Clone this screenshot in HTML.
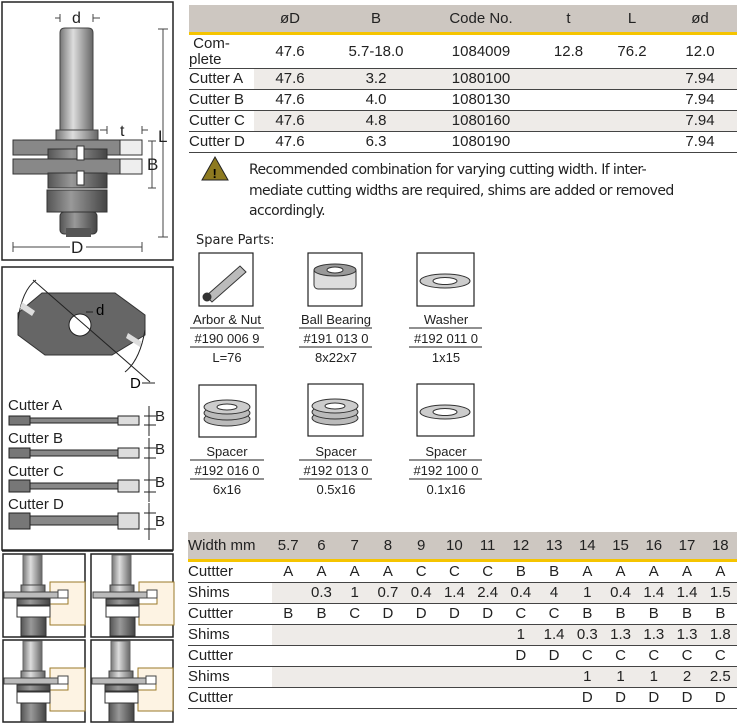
<!DOCTYPE html>
<html><head><meta charset="utf-8"><style>
body{margin:0;width:737px;height:728px;background:#fff;position:relative;overflow:hidden;font-family:"Liberation Sans",sans-serif;color:#222}
.t{position:absolute;white-space:nowrap}
table{position:absolute;border-collapse:collapse;font-size:15px}
td{padding:0;text-align:center;height:20px;border-bottom:1px solid #444;line-height:20px}
.hd td{background:#cdc7c1;border-bottom:3px solid #f5c400;height:27px}
.sh td.s{background:#eeebe8}
td.l{text-align:left}
.fx{table-layout:fixed}
.lab{position:absolute;font-size:13px;text-align:center;font-family:"Liberation Sans",sans-serif;white-space:nowrap}
</style></head><body>
<svg width="737" height="728" style="position:absolute;left:0;top:0" xmlns="http://www.w3.org/2000/svg">
<defs>
<linearGradient id="g" x1="0" x2="1"><stop offset="0" stop-color="#777"/><stop offset="0.4" stop-color="#ddd"/><stop offset="1" stop-color="#666"/></linearGradient>
<linearGradient id="gd" x1="0" x2="1"><stop offset="0" stop-color="#555"/><stop offset="0.4" stop-color="#999"/><stop offset="1" stop-color="#444"/></linearGradient>
</defs>
<g fill="none" stroke="#222" stroke-width="1.5">
<rect x="2" y="2" width="171" height="258"/>
<rect x="2" y="267" width="171" height="283"/>
</g>
<path d="M60 135 V33 Q60 28 65 28 H88 Q93 28 93 33 V135 Z" fill="url(#g)" stroke="#444"/>
<rect x="56" y="130" width="42" height="12" fill="url(#g)" stroke="#444"/>
<rect x="13" y="140" width="107" height="15" fill="#888" stroke="#333"/>
<rect x="120" y="140" width="22" height="15" fill="#eee" stroke="#333"/>
<rect x="48" y="149" width="59" height="14" fill="url(#gd)" stroke="#333"/>
<rect x="13" y="159" width="107" height="15" fill="#888" stroke="#333"/>
<rect x="120" y="159" width="22" height="15" fill="#eee" stroke="#333"/>
<rect x="48" y="173" width="59" height="15" fill="url(#gd)" stroke="#333"/>
<rect x="47" y="190" width="60" height="22" fill="url(#gd)" stroke="#333"/>
<rect x="60" y="212" width="37" height="22" rx="4" fill="url(#gd)" stroke="#333"/>
<rect x="66" y="228" width="25" height="9" fill="#555"/>
<rect x="77" y="146" width="7" height="14" fill="#fff" stroke="#333"/>
<rect x="77" y="171" width="7" height="14" fill="#fff" stroke="#333"/>
<g stroke="#444" stroke-width="1">
<line x1="163" y1="29" x2="163" y2="237"/><line x1="158" y1="29" x2="168" y2="29"/><line x1="158" y1="237" x2="168" y2="237"/>
<line x1="152" y1="141" x2="152" y2="188"/><line x1="148" y1="141" x2="156" y2="141"/><line x1="148" y1="188" x2="156" y2="188"/>
<line x1="13" y1="247" x2="70" y2="247"/><line x1="86" y1="247" x2="142" y2="247"/><line x1="13" y1="242" x2="13" y2="252"/><line x1="142" y1="242" x2="142" y2="252"/>
<line x1="55" y1="18" x2="60" y2="18"/><line x1="60" y1="14" x2="60" y2="22"/><line x1="93" y1="18" x2="100" y2="18"/><line x1="93" y1="14" x2="93" y2="22"/>
<line x1="100" y1="130" x2="107" y2="130"/><line x1="107" y1="126" x2="107" y2="134"/><line x1="142" y1="130" x2="148" y2="130"/><line x1="142" y1="126" x2="142" y2="134"/>
</g>
<g font-family="Liberation Sans" font-size="16" fill="#222">
<text x="72" y="23">d</text><text x="158" y="142" font-size="17">L</text><text x="120" y="136">t</text><text x="147" y="170" font-size="17">B</text><text x="71" y="253" font-size="17">D</text>
</g>
<polygon points="42,293 115,293 145,315 145,335 112,355 45,355 18,335 18,313" fill="#666" stroke="#333"/>
<circle cx="80" cy="325" r="11" fill="#fff" stroke="#222"/>
<line x1="33" y1="280" x2="150" y2="382" stroke="#222"/>
<path d="M18 320 Q22 290 36 280" fill="none" stroke="#222"/><path d="M145 330 Q140 360 125 372" fill="none" stroke="#222"/>
<polygon points="22,302 35,311 32,316 20,308" fill="#ddd"/><polygon points="128,333 142,342 140,347 126,338" fill="#ddd"/>
<path d="M86 312 H93" stroke="#222"/>
<text x="96" y="315" font-size="15" font-family="Liberation Sans">d</text>
<text x="130" y="388" font-size="15" font-family="Liberation Sans">D</text><line x1="142" y1="383" x2="155" y2="383" stroke="#222"/>
<g font-family="Liberation Sans" font-size="15" fill="#222">
<text x="8" y="410">Cutter A</text><text x="8" y="443">Cutter B</text><text x="8" y="476">Cutter C</text><text x="8" y="509">Cutter D</text>
<text x="155" y="421">B</text><text x="155" y="454">B</text><text x="155" y="487">B</text><text x="155" y="526">B</text>
</g>
<g stroke="#222">
<rect x="9" y="416" width="21" height="9" fill="#777"/><rect x="30" y="418" width="88" height="5" fill="#888"/><rect x="118" y="416" width="21" height="9" fill="#ddd"/>
<rect x="9" y="448" width="21" height="10" fill="#777"/><rect x="30" y="450" width="88" height="6" fill="#888"/><rect x="118" y="448" width="21" height="10" fill="#ddd"/>
<rect x="9" y="480" width="21" height="12" fill="#777"/><rect x="30" y="483" width="88" height="6" fill="#888"/><rect x="118" y="480" width="21" height="12" fill="#ddd"/>
<rect x="9" y="513" width="21" height="16" fill="#777"/><rect x="30" y="516" width="88" height="9" fill="#888"/><rect x="118" y="513" width="21" height="16" fill="#ddd"/>
<g stroke-width="1"><line x1="144" y1="416" x2="156" y2="416"/><line x1="144" y1="425" x2="156" y2="425"/><line x1="149" y1="406" x2="149" y2="436"/>
<line x1="144" y1="448" x2="156" y2="448"/><line x1="144" y1="458" x2="156" y2="458"/><line x1="149" y1="438" x2="149" y2="470"/>
<line x1="144" y1="480" x2="156" y2="480"/><line x1="144" y1="492" x2="156" y2="492"/><line x1="149" y1="470" x2="149" y2="502"/>
<line x1="144" y1="513" x2="156" y2="513"/><line x1="144" y1="529" x2="156" y2="529"/><line x1="149" y1="503" x2="149" y2="540"/></g>
</g>
<line x1="2" y1="551" x2="173" y2="551" stroke="#222" stroke-width="1.5"/>
<g fill="none" stroke="#222" stroke-width="1.5">
<rect x="3" y="554" width="82" height="83"/><rect x="91" y="554" width="82" height="83"/>
<rect x="3" y="640" width="82" height="82"/><rect x="91" y="640" width="82" height="82"/>
</g>
<g id="p1">
<path d="M50 582 H85 V625 H50 V604 H68 V592 H50 Z" fill="#fdf3e3" stroke="#9a7a2a"/>
<rect x="23" y="555" width="19" height="30" fill="url(#g)" stroke="#666"/>
<rect x="21" y="585" width="24" height="8" fill="url(#g)" stroke="#444"/>
<rect x="4" y="592" width="62" height="6" fill="#bbb" stroke="#444"/><rect x="58" y="590" width="10" height="8" fill="#fff" stroke="#444"/>
<rect x="17" y="599" width="33" height="6" fill="url(#gd)" stroke="#333"/>
<rect x="17" y="606" width="33" height="11" fill="#fff" stroke="#333"/>
<rect x="21" y="617" width="25" height="19" fill="url(#gd)" stroke="#333"/>
</g>
<use href="#p1" x="89" y="0"/>
<use href="#p1" x="0" y="86"/>
<use href="#p1" x="88" y="86"/>
<polygon points="215,157 228,180 202,180" fill="#8d7a20" stroke="#222"/>
<text x="212.5" y="178" font-size="13" font-weight="bold" font-family="Liberation Sans">!</text>
<g fill="#fff" stroke="#222" stroke-width="1.2">
<rect x="199" y="253" width="54" height="53"/><rect x="308" y="253" width="54" height="53"/><rect x="417" y="253" width="57" height="53"/>
<rect x="199" y="385" width="57" height="52"/><rect x="308" y="384" width="55" height="52"/><rect x="417" y="384" width="57" height="52"/>
</g>
<g stroke="#333">
<path d="M206 296 L240 266 L246 272 L212 302 Z" fill="#bbb"/><circle cx="207" cy="297" r="4" fill="#333"/>
<rect x="314" y="267" width="42" height="22" rx="4" fill="#ddd"/><ellipse cx="335" cy="270" rx="21" ry="6" fill="#999"/><ellipse cx="335" cy="270" rx="8" ry="3" fill="#fff"/>
<ellipse cx="445" cy="281" rx="25" ry="7" fill="#ccc"/><ellipse cx="445" cy="281" rx="12" ry="3.5" fill="#fff"/>
<ellipse cx="227" cy="419" rx="23" ry="7" fill="#bbb"/><ellipse cx="227" cy="413" rx="23" ry="7" fill="#bbb"/><ellipse cx="227" cy="407" rx="23" ry="7" fill="#ccc"/><ellipse cx="227" cy="407" rx="10" ry="3" fill="#fff"/>
<ellipse cx="335" cy="418" rx="23" ry="7" fill="#bbb"/><ellipse cx="335" cy="412" rx="23" ry="7" fill="#bbb"/><ellipse cx="335" cy="406" rx="23" ry="7" fill="#ccc"/><ellipse cx="335" cy="406" rx="10" ry="3" fill="#fff"/>
<ellipse cx="445" cy="412" rx="25" ry="7" fill="#ccc"/><ellipse cx="445" cy="412" rx="12" ry="3.5" fill="#fff"/>
</g>
<g stroke="#222" stroke-width="1">
<line x1="190" y1="328" x2="264" y2="328"/><line x1="190" y1="347" x2="264" y2="347"/>
<line x1="299" y1="328" x2="372" y2="328"/><line x1="299" y1="347" x2="372" y2="347"/>
<line x1="409" y1="328" x2="482" y2="328"/><line x1="409" y1="347" x2="482" y2="347"/>
<line x1="190" y1="460" x2="264" y2="460"/><line x1="190" y1="479" x2="264" y2="479"/>
<line x1="299" y1="460" x2="372" y2="460"/><line x1="299" y1="479" x2="372" y2="479"/>
<line x1="409" y1="460" x2="482" y2="460"/><line x1="409" y1="479" x2="482" y2="479"/>
</g>
</svg>

<table style="left:189px;top:5px;width:548px">
<tr class="hd"><td style="width:65px"></td><td style="width:72px">øD</td><td style="width:100px">B</td><td style="width:110px">Code No.</td><td style="width:65px">t</td><td style="width:62px">L</td><td>ød</td></tr>
<tr><td class="l" style="height:33px;line-height:16px">&nbsp;Com-<br>plete</td><td>47.6</td><td>5.7-18.0</td><td>1084009</td><td>12.8</td><td>76.2</td><td>12.0</td></tr>
<tr class="sh"><td class="l">Cutter A</td><td class="s">47.6</td><td class="s">3.2</td><td class="s">1080100</td><td class="s"></td><td class="s"></td><td class="s">7.94</td></tr>
<tr><td class="l">Cutter B</td><td>47.6</td><td>4.0</td><td>1080130</td><td></td><td></td><td>7.94</td></tr>
<tr class="sh"><td class="l">Cutter C</td><td class="s">47.6</td><td class="s">4.8</td><td class="s">1080160</td><td class="s"></td><td class="s"></td><td class="s">7.94</td></tr>
<tr><td class="l">Cutter D</td><td>47.6</td><td>6.3</td><td>1080190</td><td></td><td></td><td>7.94</td></tr>
</table>
<div class="t" style="left:249px;top:160px;font-size:14px;line-height:20.5px;font-family:'DejaVu Sans',sans-serif;letter-spacing:-0.6px">Recommended combination for varying cutting width. If inter-<br>mediate cutting widths are required, shims are added or removed<br>accordingly.</div>
<div class="t" style="left:196px;top:233px;font-size:13px;font-family:'DejaVu Sans',sans-serif">Spare Parts:</div>
<div class="lab" style="left:190px;top:310px;width:74px;line-height:19px">Arbor &amp; Nut<br>#190 006 9<br>L=76</div>
<div class="lab" style="left:299px;top:310px;width:74px;line-height:19px">Ball Bearing<br>#191 013 0<br>8x22x7</div>
<div class="lab" style="left:409px;top:310px;width:74px;line-height:19px">Washer<br>#192 011 0<br>1x15</div>
<div class="lab" style="left:190px;top:442px;width:74px;line-height:19px">Spacer<br>#192 016 0<br>6x16</div>
<div class="lab" style="left:299px;top:442px;width:74px;line-height:19px">Spacer<br>#192 013 0<br>0.5x16</div>
<div class="lab" style="left:409px;top:442px;width:74px;line-height:19px">Spacer<br>#192 100 0<br>0.1x16</div>

<table class="fx" style="left:188px;top:532px;width:549px">
<colgroup><col style="width:83px"><col span="14" style="width:33px"></colgroup>
<tr class="hd"><td class="l">Width mm</td><td>5.7</td><td>6</td><td>7</td><td>8</td><td>9</td><td>10</td><td>11</td><td>12</td><td>13</td><td>14</td><td>15</td><td>16</td><td>17</td><td>18</td></tr>
<tr><td class="l">Cuttter</td><td>A</td><td>A</td><td>A</td><td>A</td><td>C</td><td>C</td><td>C</td><td>B</td><td>B</td><td>A</td><td>A</td><td>A</td><td>A</td><td>A</td></tr>
<tr class="sh"><td class="l">Shims</td><td class="s"></td><td class="s">0.3</td><td class="s">1</td><td class="s">0.7</td><td class="s">0.4</td><td class="s">1.4</td><td class="s">2.4</td><td class="s">0.4</td><td class="s">4</td><td class="s">1</td><td class="s">0.4</td><td class="s">1.4</td><td class="s">1.4</td><td class="s">1.5</td></tr>
<tr><td class="l">Cuttter</td><td>B</td><td>B</td><td>C</td><td>D</td><td>D</td><td>D</td><td>D</td><td>C</td><td>C</td><td>B</td><td>B</td><td>B</td><td>B</td><td>B</td></tr>
<tr class="sh"><td class="l">Shims</td><td class="s"></td><td class="s"></td><td class="s"></td><td class="s"></td><td class="s"></td><td class="s"></td><td class="s"></td><td class="s">1</td><td class="s">1.4</td><td class="s">0.3</td><td class="s">1.3</td><td class="s">1.3</td><td class="s">1.3</td><td class="s">1.8</td></tr>
<tr><td class="l">Cuttter</td><td></td><td></td><td></td><td></td><td></td><td></td><td></td><td>D</td><td>D</td><td>C</td><td>C</td><td>C</td><td>C</td><td>C</td></tr>
<tr class="sh"><td class="l">Shims</td><td class="s"></td><td class="s"></td><td class="s"></td><td class="s"></td><td class="s"></td><td class="s"></td><td class="s"></td><td class="s"></td><td class="s"></td><td class="s">1</td><td class="s">1</td><td class="s">1</td><td class="s">2</td><td class="s">2.5</td></tr>
<tr><td class="l">Cuttter</td><td></td><td></td><td></td><td></td><td></td><td></td><td></td><td></td><td></td><td>D</td><td>D</td><td>D</td><td>D</td><td>D</td></tr>
</table>
</body></html>
